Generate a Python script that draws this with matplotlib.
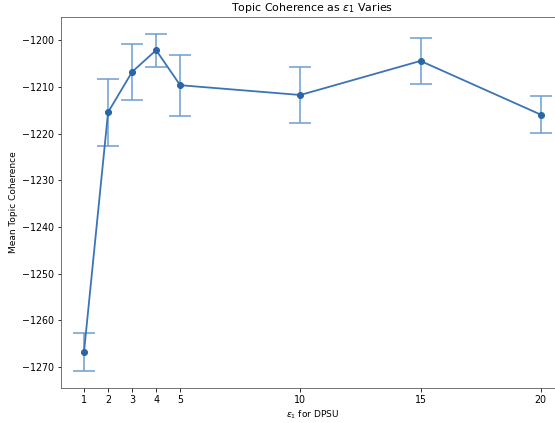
import matplotlib
matplotlib.use("Agg")
import matplotlib.pyplot as plt

# epsilon_1 values and mean topic coherence with error (std)
eps1 = [1, 2, 3, 4, 5, 10, 15, 20]
mean_coherence = [-1266.7, -1215.4, -1206.75, -1202.1, -1209.6, -1211.7, -1204.4, -1215.9]
err_coherence = [4.1, 7.15, 6.05, 3.5, 6.55, 5.98, 4.9, 3.9]
xtick_vals = [1, 2, 3, 4, 5, 10, 15, 20]

dpi = 72
fig = plt.figure(figsize=(555 / dpi, 423 / dpi), dpi=dpi)
# axes run past the right edge, as in the cropped original
ax = fig.add_axes([61.2 / 555, 1 - 387.7 / 423, (563.5 - 61.2) / 555, (387.7 - 17) / 423])

ax.errorbar(eps1, mean_coherence, yerr=err_coherence, fmt="none",
            ecolor="#6a9ccf", capsize=11, elinewidth=1.5, capthick=1.5)
ax.plot(eps1, mean_coherence, "-o", color="#3b74b5", linewidth=1.8,
        markersize=6, markerfacecolor="#2a65a6", markeredgecolor="#2a65a6")

ax.set_xticks(xtick_vals)
ax.set_title(r"Topic Coherence as $\epsilon_1$ Varies", fontsize=11)
ax.set_xlabel(r"$\epsilon_1$ for DPSU", fontsize=9)
ax.set_ylabel("Mean Topic Coherence", fontsize=9)
ax.tick_params(labelsize=9.5)
for s in ax.spines.values():
    s.set_color("#555555")

fig.savefig("out.png", dpi=dpi)
